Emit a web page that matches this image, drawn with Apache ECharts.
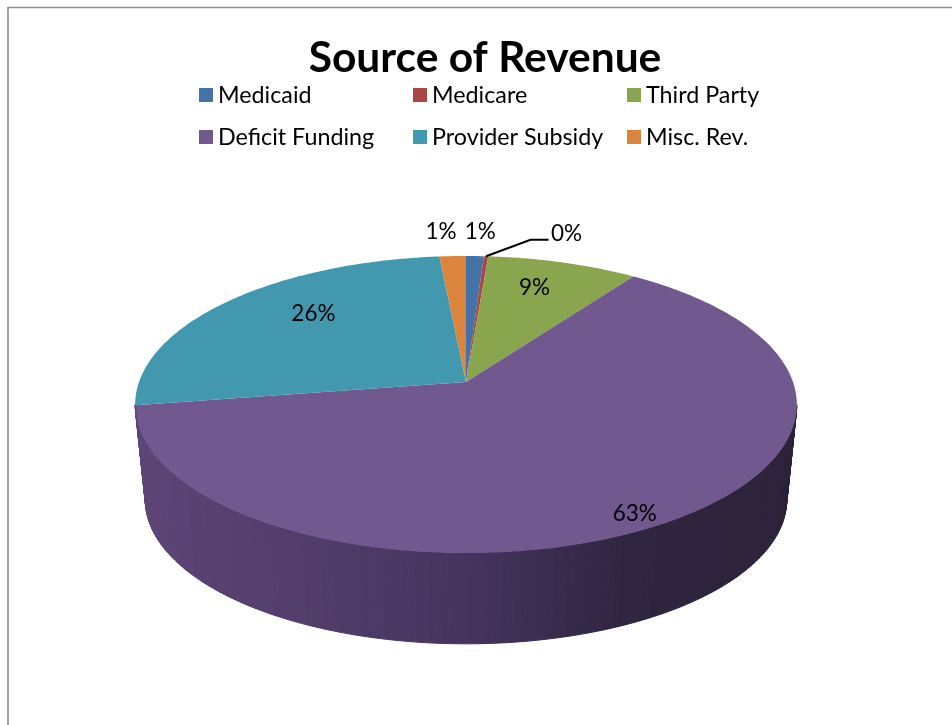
<!DOCTYPE html>
<html>
<head>
<meta charset="utf-8">
<title>Source of Revenue</title>
<script src="https://cdn.jsdelivr.net/npm/echarts@6/dist/echarts.min.js"></script>
<style>
  html, body { margin: 0; padding: 0; background: #fff; }
  #chart { width: 952px; height: 725px; }
</style>
</head>
<body>
<div id="chart"></div>
<script>
// share of revenue in percent
var categories = ["Medicaid", "Medicare", "Third Party", "Deficit Funding", "Provider Subsidy", "Misc. Rev."];
var revenueShare = [1.0, 0.25, 8.5, 62.75, 26.01, 1.49];
var colors = ["#4572A7", "#AA4643", "#89A54E", "#71588F", "#4198AF", "#DB843D"];

// [radius as fraction of the disc, turn in degrees from the middle of the slice]
var labelPlaces = [[1.24, 0.6], [1.28, 12.5], [0.77, -2.2], [0.91, 2], [0.725, 8.2], [1.25, -1.5]];

var fontName = "Lato, Carlito, 'Open Sans', sans-serif";

// tilted disc: perspective of a unit circle onto the page
var topRim = { cx: 466, cy: 382, a: 145.1, b: 327 };
var lowRim = { cx: 466, cy: 478, a: 140.7, b: 317 };
var tilt = 0.1515;
var wallRamp = ["#5d4577", "#523d6b", "#46345f", "#2f2540", "#2c2238"];

var total = revenueShare.reduce(function (s, v) { return s + v; }, 0);

function project(rim, theta, r) {
  var u = r * Math.sin(theta);
  var v = r * Math.cos(theta);
  var d = 1 + tilt * v;
  return [rim.cx + (rim.b * u) / d, rim.cy - (rim.a * v) / d];
}

function sliceAngles(index) {
  var before = 0;
  for (var i = 0; i < index; i++) before += revenueShare[i];
  return [
    (before / total) * Math.PI * 2,
    ((before + revenueShare[index]) / total) * Math.PI * 2,
  ];
}

function renderSlice(index) {
  return function (params, api) {
    var range = sliceAngles(index);
    var start = range[0];
    var end = range[1];
    var step = Math.PI / 180;
    var children = [];

    // side wall, only the part that faces the viewer
    var frontFrom = Math.max(start, Math.acos(-tilt));
    var frontTo = Math.min(end, Math.PI * 2 - Math.acos(-tilt));
    for (var t = frontFrom; t < frontTo; t += step) {
      var t2 = Math.min(t + step, frontTo);
      var p1 = project(topRim, t, 1);
      var p2 = project(topRim, t2, 1);
      var p3 = project(lowRim, t2, 1);
      var p4 = project(lowRim, t, 1);
      var f = 1 - (p1[0] - 135) / 662;
      var shade = echarts.color.lerp(1 - Math.min(1, Math.max(0, f)), wallRamp);
      children.push({
        type: "polygon",
        shape: { points: [p1, p2, p3, p4] },
        style: { fill: shade, stroke: shade, lineWidth: 1 },
      });
    }

    // top face
    var face = [[topRim.cx, topRim.cy]];
    for (var a = start; a < end; a += step) face.push(project(topRim, a, 1));
    face.push(project(topRim, end, 1));
    children.push({
      type: "polygon",
      shape: { points: face },
      style: { fill: colors[index] },
    });

    // percent label
    var mid = (start + end) / 2;
    var place = labelPlaces[index];
    var at = project(topRim, mid + (place[1] * Math.PI) / 180, place[0]);
    children.push({
      type: "text",
      z2: 10,
      style: {
        x: at[0],
        y: at[1] + 1.5,
        text: Math.round((revenueShare[index] / total) * 100) + "%",
        fill: "#000",
        font: "22.5px " + fontName,
        align: "center",
        verticalAlign: "middle",
      },
    });

    // only the smallest slice gets a leader line
    if (revenueShare[index] < 0.5) {
      children.push({
        type: "polyline",
        z2: 10,
        shape: {
          points: [project(topRim, mid, 1), [at[0] - 36, at[1] + 8], [at[0] - 18, at[1] + 8]],
        },
        style: { fill: null, stroke: "#000", lineWidth: 2 },
      });
    }

    return { type: "group", children: children };
  };
}

var myChart = echarts.init(document.getElementById("chart"), null, { renderer: "canvas" });

function legendColumn(left, names) {
  return {
    left: left,
    top: 79,
    orient: "vertical",
    data: names,
    icon: "rect",
    itemWidth: 14,
    itemHeight: 14,
    itemGap: 10,
    padding: 0,
    selectedMode: false,
    textStyle: { color: "#000", fontSize: 23.3, fontFamily: fontName, lineHeight: 32 },
  };
}

myChart.setOption({
  animation: false,
  backgroundColor: "#fff",
  title: {
    text: "Source of Revenue",
    left: 480,
    top: 32,
    textAlign: "center",
    textStyle: { color: "#000", fontSize: 42.5, fontWeight: "bold", fontFamily: fontName },
  },
  legend: [
    legendColumn(199, [categories[0], categories[3]]),
    legendColumn(413, [categories[1], categories[4]]),
    legendColumn(627, [categories[2], categories[5]]),
  ],
  graphic: [
    {
      type: "polyline",
      silent: true,
      shape: { points: [[8, 725], [8, 7.5], [952, 7.5]] },
      style: { fill: null, stroke: "#8e8e8e", lineWidth: 1.6 },
    },
  ],
  series: categories.map(function (name, i) {
    return {
      type: "custom",
      name: name,
      coordinateSystem: "none",
      silent: true,
      itemStyle: { color: colors[i] },
      data: [{ name: name, value: revenueShare[i] }],
      renderItem: renderSlice(i),
    };
  }),
});
</script>
</body>
</html>
